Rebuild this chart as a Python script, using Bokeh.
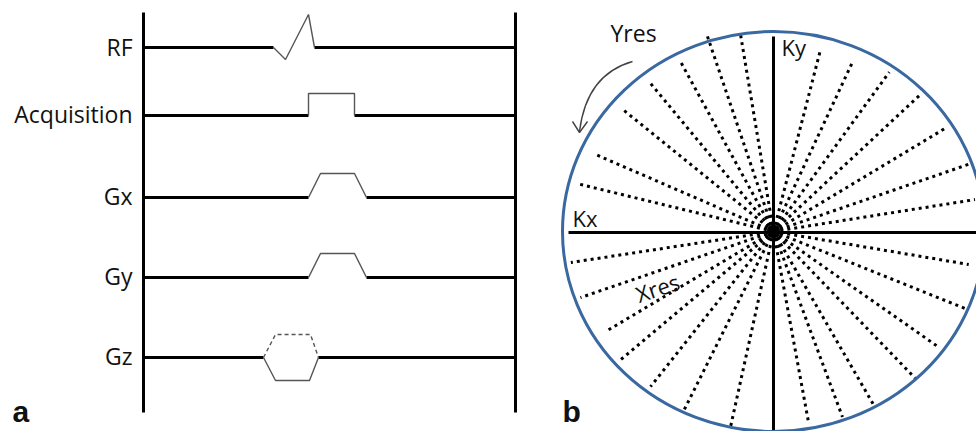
import numpy as np
from bokeh.plotting import figure
from bokeh.models import Range1d
from bokeh.core.properties import value
from bokeh.embed import file_html
from bokeh.resources import INLINE

# ---------------- Panel a: pulse sequence ----------------
channels = ["RF", "Acquisition", "Gx", "Gy", "Gz"]
channel_y = [47, 115, 197, 277, 357]
label_mid_y = [46, 113, 195, 275, 355]
pulse_start = [273, 308, 308, 308, 263]
pulse_end = [314, 354, 366, 366, 318]
timeline_x = [143, 515]
timeline_top, timeline_bottom = 12, 412
label_right = 132

rf_x = [273, 285, 308, 314]
rf_dy = [0, 12, -33, 0]
acq_x = [308, 308, 354, 354]
acq_dy = [0, -22, -22, 0]
grad_x = [308, 320, 354, 366]
grad_dy = [0, -24, -24, 0]
gz_top_x = [263, 275, 310, 318]
gz_top_dy = [0, -23, -23, 0]
gz_bot_x = [263, 275, 309, 318]
gz_bot_dy = [0, 23, 23, 0]

# ---------------- Panel b: radial k-space ----------------
k_cx, k_cy = 773, 231
k_rx, k_ry = 211, 200
spoke_angle_deg = [9, 19, 31, 43, 54, 65, 75.5,
                   99.5, 108.7, 118.7, 129.7, 141, 156.6, 166.3,
                   188.7, 198.9, 210.8, 220, 231.6, 243.4, 257.6,
                   280.4, 290.4, 300, 314, 325, 338.1, 350.4]
spoke_length = [204, 208, 200, 202, 197, 187, 188,
                200, 206, 194, 192, 196, 194, 199,
                205, 204, 195, 203, 198, 201, 200,
                194, 198, 202, 205, 200, 209, 198]
ky_axis = (36, 432)
kx_axis = (568, 980)

FONT = "Open Sans"
ink = "black"
thin = "#555555"
txt = "#111111"

W, H = 976, 431
p = figure(width=W, height=H, x_range=Range1d(0, W), y_range=Range1d(H, 0),
           output_backend="svg", toolbar_location=None, min_border=0,
           x_axis_location=None, y_axis_location=None, outline_line_color=None)
p.grid.visible = False

# timelines
for tx in timeline_x:
    p.line([tx, tx], [timeline_top, timeline_bottom], line_color=ink, line_width=3)

# baselines
xs, ys = [], []
for y, s, e in zip(channel_y, pulse_start, pulse_end):
    xs += [[timeline_x[0], s], [e, timeline_x[1]]]
    ys += [[y, y], [y, y]]
p.multi_line(xs, ys, line_color=ink, line_width=3)

# pulses
p.line(rf_x, [channel_y[0] + d for d in rf_dy], line_color=thin, line_width=1.4)
p.line(acq_x, [channel_y[1] + d for d in acq_dy], line_color=thin, line_width=1.4)
p.line(grad_x, [channel_y[2] + d for d in grad_dy], line_color=thin, line_width=1.4)
p.line(grad_x, [channel_y[3] + d for d in grad_dy], line_color=thin, line_width=1.4)
p.line(gz_top_x, [channel_y[4] + d for d in gz_top_dy], line_color=thin, line_width=1.4,
       line_dash="4 3")
p.line(gz_bot_x, [channel_y[4] + d for d in gz_bot_dy], line_color=thin, line_width=1.4)

# labels
p.text(x=[label_right] * len(channels), y=label_mid_y, text=channels,
       text_align="right", text_baseline="middle", text_font=value(FONT),
       text_font_size="23px", text_color=txt)

# ---------------- Panel b ----------------
ang = np.radians(spoke_angle_deg)
L = np.array(spoke_length)
sx = [[k_cx, k_cx + l * np.cos(a)] for a, l in zip(ang, L)]
sy = [[k_cy, k_cy - l * np.sin(a)] for a, l in zip(ang, L)]
p.multi_line(sx, sy, line_color=ink, line_width=3, line_dash="3 4", line_cap="butt")

p.line([k_cx, k_cx], list(ky_axis), line_color=ink, line_width=3)
p.line(list(kx_axis), [k_cy + 1, k_cy + 1], line_color=ink, line_width=3)
p.scatter([k_cx], [k_cy], size=13, color=ink)

p.ellipse(x=[k_cx], y=[k_cy], width=[2 * k_rx], height=[2 * k_ry], fill_color=None,
          line_color="#3a68a0", line_width=3)

# Yres arrow
p.quadratic(x0=[632], y0=[61], x1=[579], y1=[131], cx=[586], cy=[74],
            line_color="#444444", line_width=1.4)
p.line([572, 579, 587], [121, 132, 121], line_color="#444444", line_width=1.4)

p.text(x=[610], y=[32], text=["Yres"], text_font=value(FONT), text_font_size="23px",
       text_baseline="middle", text_color=txt)
p.text(x=[781], y=[46], text=["Ky"], text_font=value(FONT), text_font_size="22px",
       text_baseline="middle", text_color=txt)
p.text(x=[572], y=[217], text=["Kx"], text_font=value(FONT), text_font_size="22px",
       text_baseline="middle", text_color=txt)
p.text(x=[657], y=[287], text=["Xres"], text_font=value(FONT), text_font_size="22px",
       text_baseline="middle", text_align="center", angle=0.33, text_color=txt)

# panel letters
p.text(x=[12, 562], y=[411, 411], text=["a", "b"], text_font=value("Liberation Sans"),
       text_font_size="30px", text_font_style="bold", text_baseline="middle",
       text_color=txt)

open("out.html", "w").write(file_html(p, INLINE))
